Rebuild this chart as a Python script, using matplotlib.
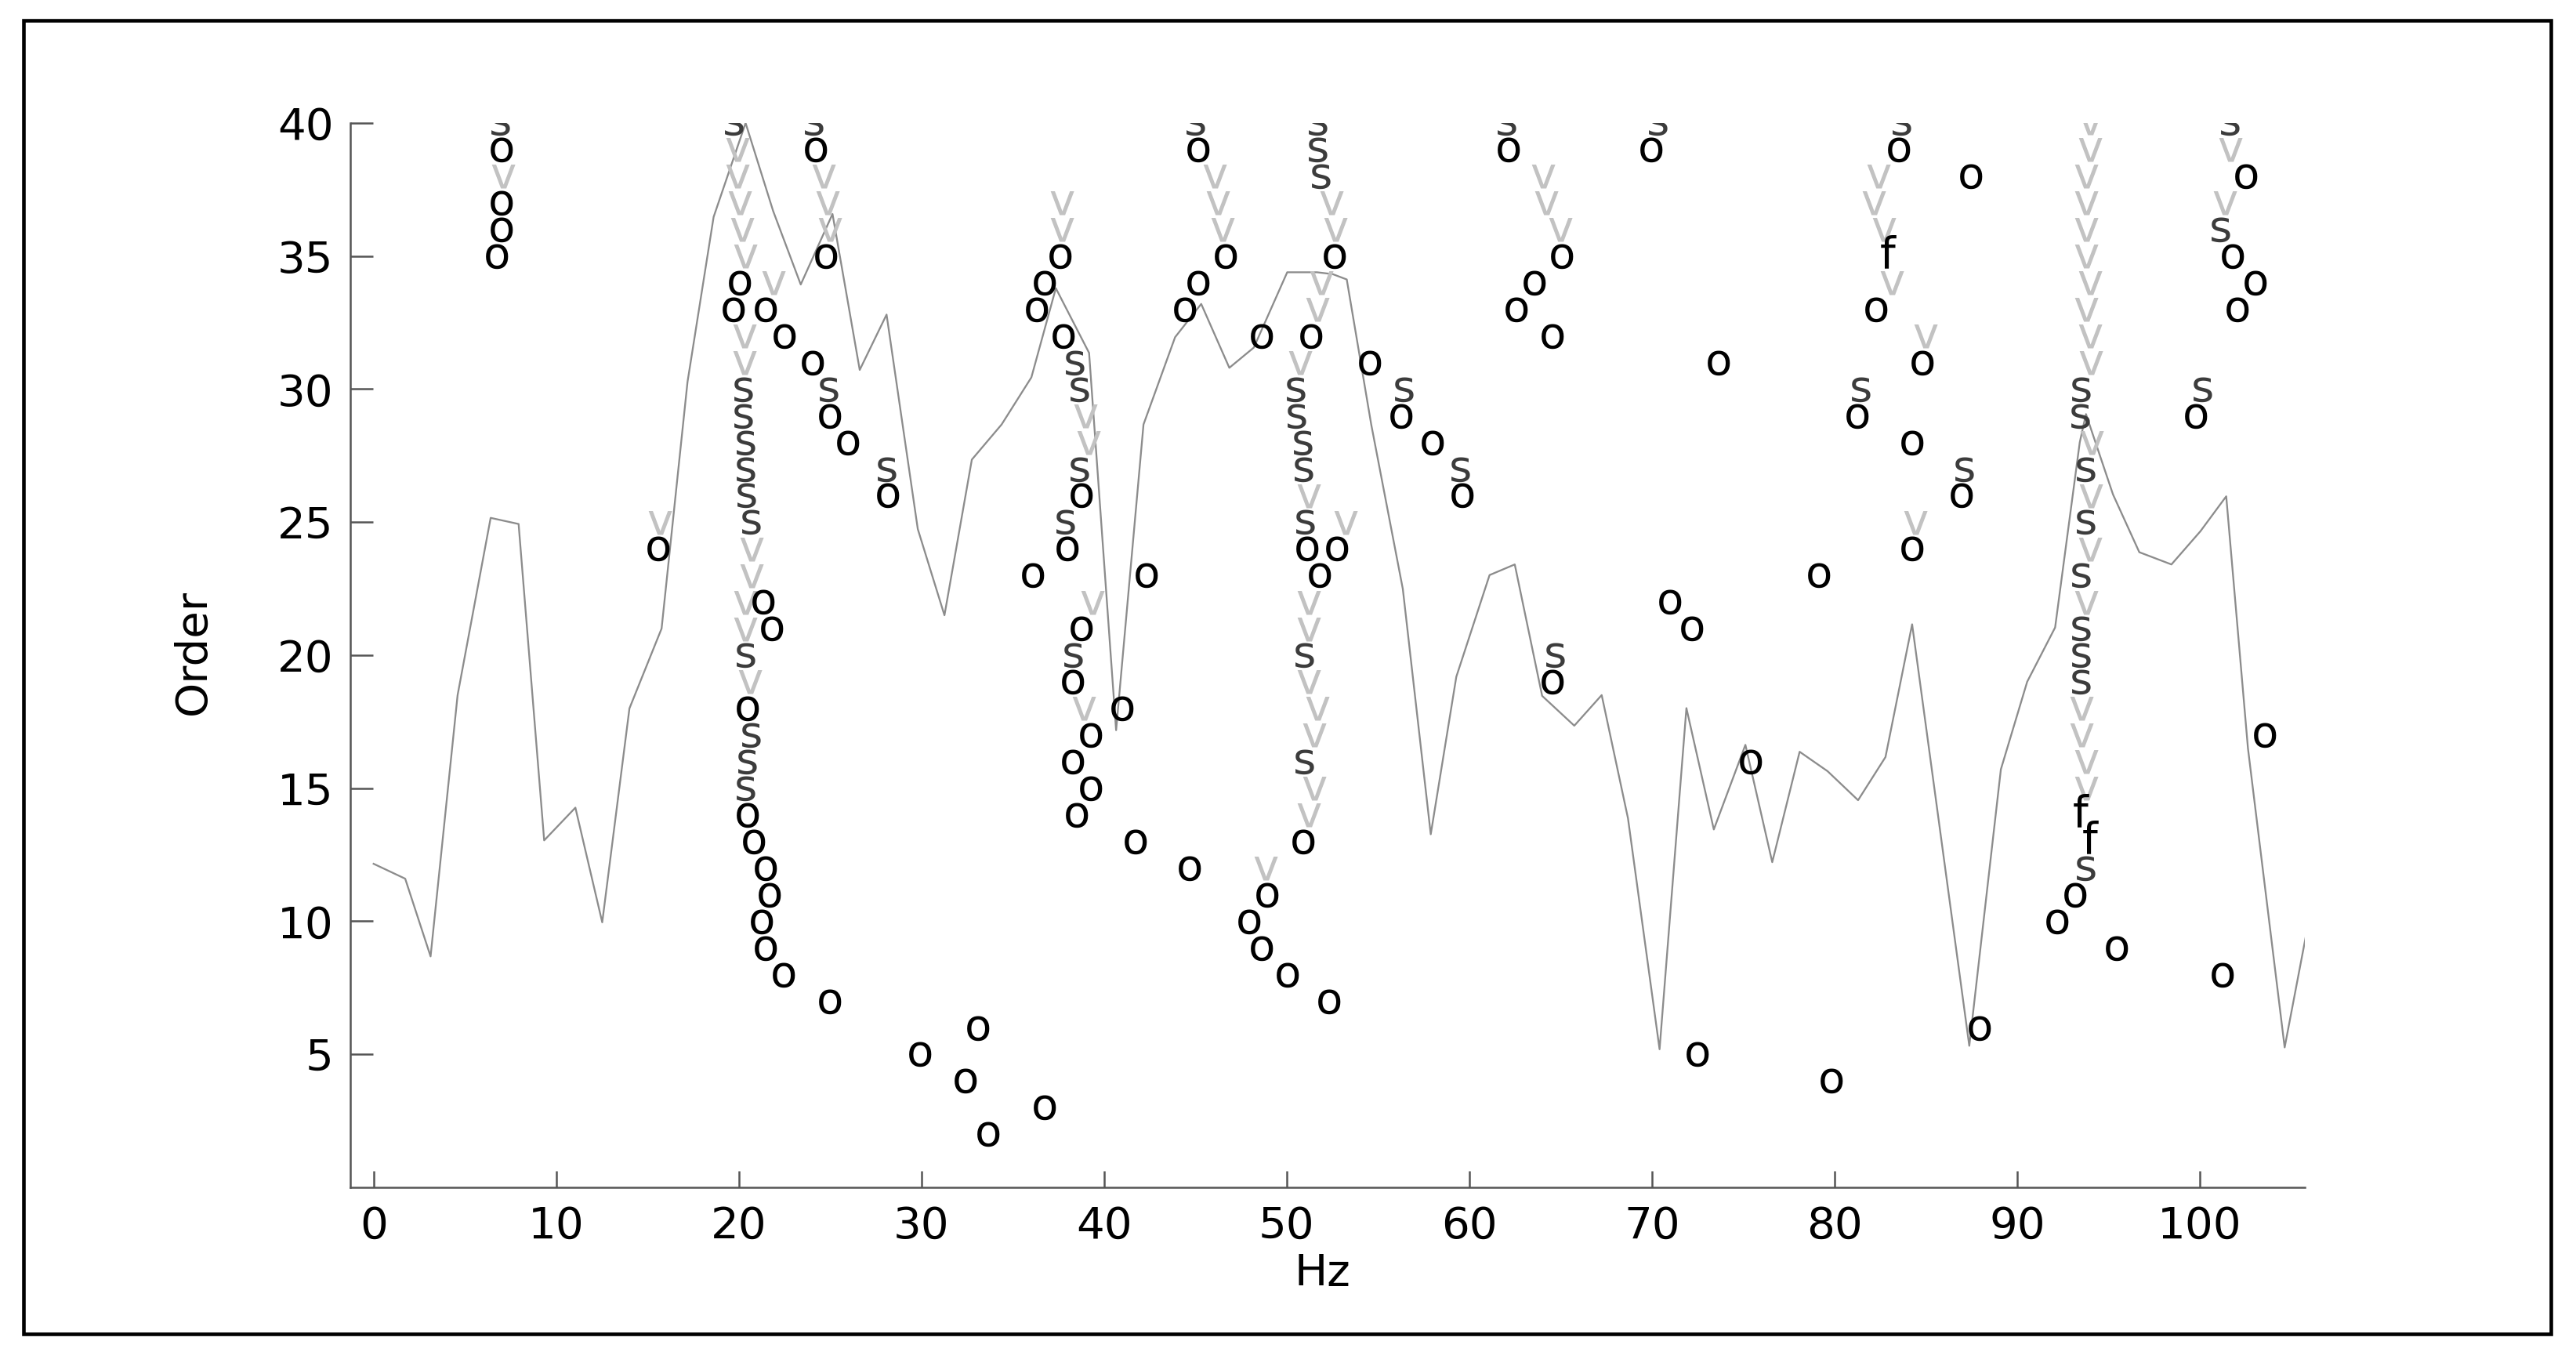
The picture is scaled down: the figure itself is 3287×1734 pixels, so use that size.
import matplotlib
matplotlib.use("Agg")
import matplotlib.pyplot as plt
from matplotlib.patches import Rectangle

plt.rcParams['font.family'] = ['DejaVu Sans']

# ---------------- data ----------------
# gray curve (Hz, scaled value on the Order axis)
line_freq = [0, 1.73, 3.12, 4.6, 6.41, 7.94, 9.34, 11.05, 12.52, 14.01,
             15.77, 17.19, 18.62, 20.37, 21.88, 23.39, 25.13, 26.62, 28.09, 29.8,
             31.26, 32.76, 34.39, 36.02, 37.36, 39.18, 40.66, 42.16, 43.89, 45.32,
             46.86, 48.2, 50.03, 51.66, 52.52, 53.29, 54.63, 56.36, 57.89, 59.29,
             61.11, 62.49, 63.99, 65.75, 67.25, 68.69, 70.42, 71.89, 73.39, 75.12,
             76.59, 78.09, 79.62, 81.29, 82.79, 84.25, 87.38, 89.11, 90.55, 92.08,
             93.43, 93.77, 95.25, 96.69, 98.45, 100.04, 101.45, 102.64, 104.65, 105.8]
line_val = [12.16, 11.6, 8.68, 18.5, 25.16, 24.93, 13.04, 14.27, 9.96, 18.0,
            21.0, 30.27, 36.47, 40.0, 36.69, 33.93, 36.58, 30.72, 32.8, 24.74,
            21.5, 27.35, 28.67, 30.44, 33.79, 31.36, 17.18, 28.67, 31.95, 33.2,
            30.8, 31.56, 34.39, 34.39, 34.32, 34.12, 28.67, 22.49, 13.27, 19.19,
            23.01, 23.41, 18.47, 17.35, 18.5, 13.87, 5.19, 18.01, 13.45, 16.63,
            12.22, 16.37, 15.64, 14.55, 16.17, 21.16, 5.32, 15.71, 19.0, 21.04,
            28.0, 29.06, 26.04, 23.87, 23.41, 24.66, 25.97, 16.5, 5.26, 9.4]

# 'o' : new pole
o_freq = [6.99, 6.99, 6.99, 6.75, 15.6,
          20.05, 19.72, 21.47, 22.52, 24.06, 24.98, 25.97, 28.16,
          21.36, 21.8, 20.48, 20.48, 20.81, 21.47, 21.69, 21.25, 21.47, 22.45, 24.97, 29.93,
          24.21, 24.76,
          37.62, 36.76, 36.34, 37.76, 38.77, 38.01, 36.09, 42.32, 38.77,
          38.3, 41.02, 39.29, 38.3, 39.29, 38.49, 41.74, 44.71, 48.92, 47.93, 48.64, 50.07, 52.32,
          33.09, 32.4, 36.76, 33.64,
          45.15, 46.68, 45.15, 44.42, 48.64,
          52.62, 51.32, 51.13, 52.76, 51.8, 50.9,
          54.58, 56.26, 57.98, 59.63,
          62.16, 65.09, 63.59, 62.6, 64.57, 64.57,
          69.97, 73.67, 70.99, 72.21, 75.43, 72.5, 79.84, 79.16,
          83.51, 82.29, 81.27, 84.24, 84.81, 87.48, 86.96, 84.24, 87.96,
          93.2, 92.18, 95.44, 101.25, 103.56,
          102.54, 101.83, 103.06, 102.06, 99.8]
o_order = [39, 37, 36, 35, 24,
           34, 33, 33, 32, 31, 29, 28, 26,
           22, 21, 18, 14, 13, 12, 11, 10, 9, 8, 7, 5,
           39, 35,
           35, 34, 33, 32, 26, 24, 23, 23, 21,
           19, 18, 17, 16, 15, 14, 13, 12, 11, 10, 9, 8, 7,
           6, 4, 3, 2,
           39, 35, 34, 33, 32,
           35, 32, 24, 24, 23, 13,
           31, 29, 28, 26,
           39, 35, 34, 33, 32, 19,
           39, 31, 22, 21, 16, 5, 4, 23,
           39, 33, 29, 28, 31, 38, 26, 24, 6,
           11, 10, 9, 8, 17,
           38, 35, 34, 33, 29]

# 'v' : stable frequency and vector
v_freq = [7.1, 15.66,
          19.94, 19.94, 20.05, 20.2, 20.37, 21.91, 20.33, 20.33, 20.7, 20.7, 20.37, 20.37, 20.59,
          24.65, 24.87, 24.98,
          37.68, 37.68, 38.97, 39.16, 39.35, 38.87,
          48.83,
          46.05, 46.24, 46.49,
          52.47, 52.66, 51.89, 51.7, 50.74, 51.22, 53.23, 51.22, 51.22, 51.22, 51.66, 51.51, 51.51, 51.22,
          64.03, 64.22, 64.99,
          82.42, 82.17, 82.71, 83.13, 84.97, 84.43,
          94.0, 94.0, 93.8, 93.77, 93.77, 93.77, 94.0, 93.77, 94.0, 94.04, 94.1, 94.04, 94.0, 93.77,
          93.52, 93.52, 93.77, 93.77,
          101.68, 101.39]
v_order = [38, 25,
           39, 38, 37, 36, 35, 34, 32, 31, 24, 23, 22, 21, 19,
           38, 37, 36,
           37, 36, 29, 28, 22, 18,
           12,
           38, 37, 36,
           37, 36, 34, 33, 31, 26, 25, 22, 21, 19, 18, 17, 15, 14,
           38, 37, 36,
           38, 37, 36, 34, 32, 25,
           40, 39, 38, 37, 36, 35, 34, 33, 32, 31, 28, 26, 24, 22,
           18, 17, 16, 15,
           39, 37]

# 's' : stable frequency and damping
s_freq = [6.95,
          19.72, 20.26, 20.26, 20.37, 20.37, 20.42, 20.7, 20.37, 20.7, 20.48, 20.37,
          24.1, 24.93, 28.09,
          38.39, 38.68, 38.68, 37.91, 38.3,
          45.0,
          51.7, 51.7, 51.89, 50.51, 50.55, 50.9, 50.94, 51.03, 50.97, 50.97,
          56.45, 59.53,
          62.06, 64.7,
          70.35,
          83.67, 81.46, 87.11,
          93.52, 93.46, 93.77, 93.77, 93.52, 93.52, 93.52, 93.52, 93.77,
          101.68, 101.14, 100.18]
s_order = [40,
           40, 30, 29, 28, 27, 26, 25, 20, 17, 16, 15,
           40, 30, 27,
           31, 30, 27, 25, 20,
           40,
           40, 39, 38, 30, 29, 28, 27, 25, 20, 16,
           30, 27,
           40, 20,
           40,
           40, 30, 27,
           30, 29, 27, 25, 23, 21, 20, 19, 12,
           40, 36, 30]

# 'f' : stable frequency
f_freq = [82.9, 93.46, 94.0]
f_order = [35, 14, 13]

x_ticks = [0, 10, 20, 30, 40, 50, 60, 70, 80, 90, 100]
y_ticks = [5, 10, 15, 20, 25, 30, 35, 40]

# ---------------- figure ----------------
W, H, DPI = 3287, 1734, 300
fig = plt.figure(figsize=(W / DPI, H / DPI), dpi=DPI, facecolor='white')

# outer black frame
fig.patches.append(Rectangle((0.00904, 0.01863), 0.98126, 0.96649,
                             transform=fig.transFigure, fill=False,
                             edgecolor='black', linewidth=1.1))

ax = fig.add_axes([0.1361, 0.1263, 0.7586, 0.7832])
ax.set_facecolor('white')
ax.set_xlim(-1.26, 105.75)
ax.set_ylim(0, 40)

ax.plot(line_freq, line_val, color='#8c8c8c', linewidth=0.55, zorder=1)

mk = dict(ha='center', va='center', fontsize=13.5, clip_on=True, zorder=3)
for x, y in zip(v_freq, v_order):
    ax.text(x, y, 'v', color='#c2c2c2', **mk)
for x, y in zip(s_freq, s_order):
    ax.text(x, y, 's', color='#3c3c3c', **mk)
for x, y in zip(o_freq, o_order):
    ax.text(x, y, 'o', color='black', **mk)
for x, y in zip(f_freq, f_order):
    ax.text(x, y, 'f', color='black', **mk)

for side in ('top', 'right'):
    ax.spines[side].set_visible(False)
for side in ('left', 'bottom'):
    ax.spines[side].set_color('#555555')
    ax.spines[side].set_linewidth(0.6)

ax.set_xticks(x_ticks)
ax.set_yticks(y_ticks)
ax.set_xticklabels([str(t) for t in x_ticks])
ax.set_yticklabels([str(t) for t in y_ticks])
ax.tick_params(axis='y', direction='in', length=7, width=0.6, color='#555555',
               labelsize=13.5, pad=5.2, labelcolor='black')
ax.tick_params(axis='x', direction='in', length=5, width=0.6, color='#555555',
               labelsize=13.5, pad=5.5, labelcolor='black')

fig.text(0.5132, 0.0629, 'Hz', ha='center', va='center', fontsize=13.5, color='black')
fig.text(0.0751, 0.5202, 'Order', ha='center', va='center', fontsize=13.5,
         rotation=90, color='black')

fig.savefig('out.png', dpi=DPI, facecolor='white')
